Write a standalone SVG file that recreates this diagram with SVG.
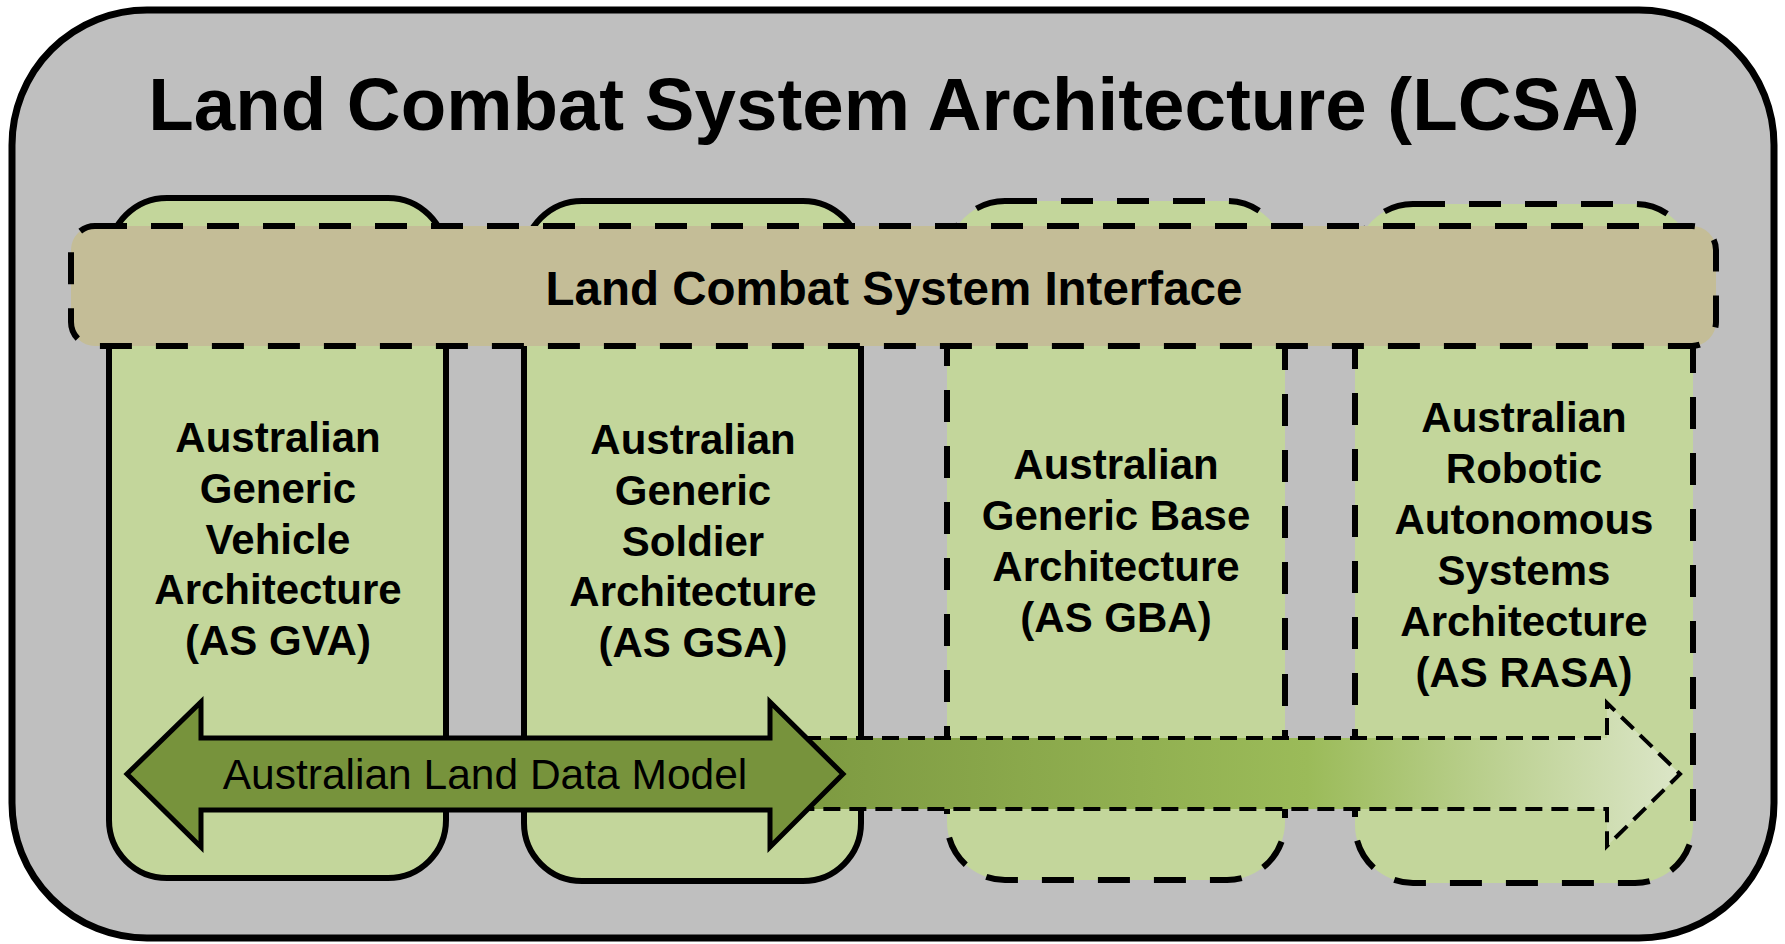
<svg xmlns="http://www.w3.org/2000/svg" width="1785" height="944" viewBox="0 0 1785 944">
<defs>
<linearGradient id="ldmGrad" gradientUnits="userSpaceOnUse" x1="700" y1="0" x2="1680" y2="0">
<stop offset="0" stop-color="#77933c"/>
<stop offset="0.62" stop-color="#9bbb59"/>
<stop offset="1" stop-color="#dce6c8"/>
</linearGradient>
<style>
.box{fill:#c3d69b;stroke:#000;stroke-width:6}
.dash{stroke-dasharray:32 24}
.t{font-family:"Liberation Sans",Arial,sans-serif;font-weight:bold;fill:#000;text-anchor:middle}
.bt{font-size:42px}
</style>
</defs>
<g id="lcsa">
<rect x="12" y="10" width="1762" height="928" rx="135" ry="135" fill="#bfbfbf" stroke="#000" stroke-width="7"/>
<text class="t" x="894" y="130" font-size="74.5">Land Combat System Architecture (LCSA)</text>
</g>
<g id="gva">
<rect class="box" x="109" y="198" width="337" height="680" rx="58" ry="58"/>
<text class="t bt" x="278"><tspan x="278" y="452">Australian</tspan><tspan x="278" y="503">Generic</tspan><tspan x="278" y="554">Vehicle</tspan><tspan x="278" y="604">Architecture</tspan><tspan x="278" y="655">(AS GVA)</tspan></text>
</g>
<g id="gsa">
<rect class="box" x="524" y="201" width="337" height="680" rx="58" ry="58"/>
<text class="t bt" x="693"><tspan x="693" y="454">Australian</tspan><tspan x="693" y="505">Generic</tspan><tspan x="693" y="556">Soldier</tspan><tspan x="693" y="606">Architecture</tspan><tspan x="693" y="657">(AS GSA)</tspan></text>
</g>
<g id="gba">
<rect class="box dash" x="947" y="201" width="338" height="679" rx="58" ry="58"/>
<text class="t bt" x="1116"><tspan x="1116" y="479">Australian</tspan><tspan x="1116" y="530">Generic Base</tspan><tspan x="1116" y="581">Architecture</tspan><tspan x="1116" y="632">(AS GBA)</tspan></text>
</g>
<g id="rasa">
<rect class="box dash" x="1355" y="204" width="338" height="679" rx="58" ry="58"/>
<text class="t bt" x="1524"><tspan x="1524" y="432">Australian</tspan><tspan x="1524" y="483">Robotic</tspan><tspan x="1524" y="534">Autonomous</tspan><tspan x="1524" y="585">Systems</tspan><tspan x="1524" y="636">Architecture</tspan><tspan x="1524" y="687">(AS RASA)</tspan></text>
</g>
<g id="lcsi">
<rect x="71" y="226" width="1645" height="120" rx="24" ry="24" fill="#c4bd97" stroke="#000" stroke-width="6" stroke-dasharray="32 24"/>
<text class="t" x="894" y="305" font-size="47.5">Land Combat System Interface</text>
</g>
<g id="connectors">
<polygon id="ldm-extension" points="700,738 1607,738 1607,703 1680,774 1607,846 1607,809 700,809" fill="url(#ldmGrad)" stroke="#000" stroke-width="4" stroke-dasharray="17 9"/>
<g id="ldm">
<polygon points="127,774 201,702 201,738 770,738 770,702 843,774 770,847 770,810 201,810 201,847" fill="#77933c" stroke="#000" stroke-width="5" stroke-linejoin="miter"/>
<text x="485" y="789" font-family="&quot;Liberation Sans&quot;,Arial,sans-serif" font-size="42.5" text-anchor="middle" fill="#000">Australian Land Data Model</text>
</g>
</g>
</svg>
